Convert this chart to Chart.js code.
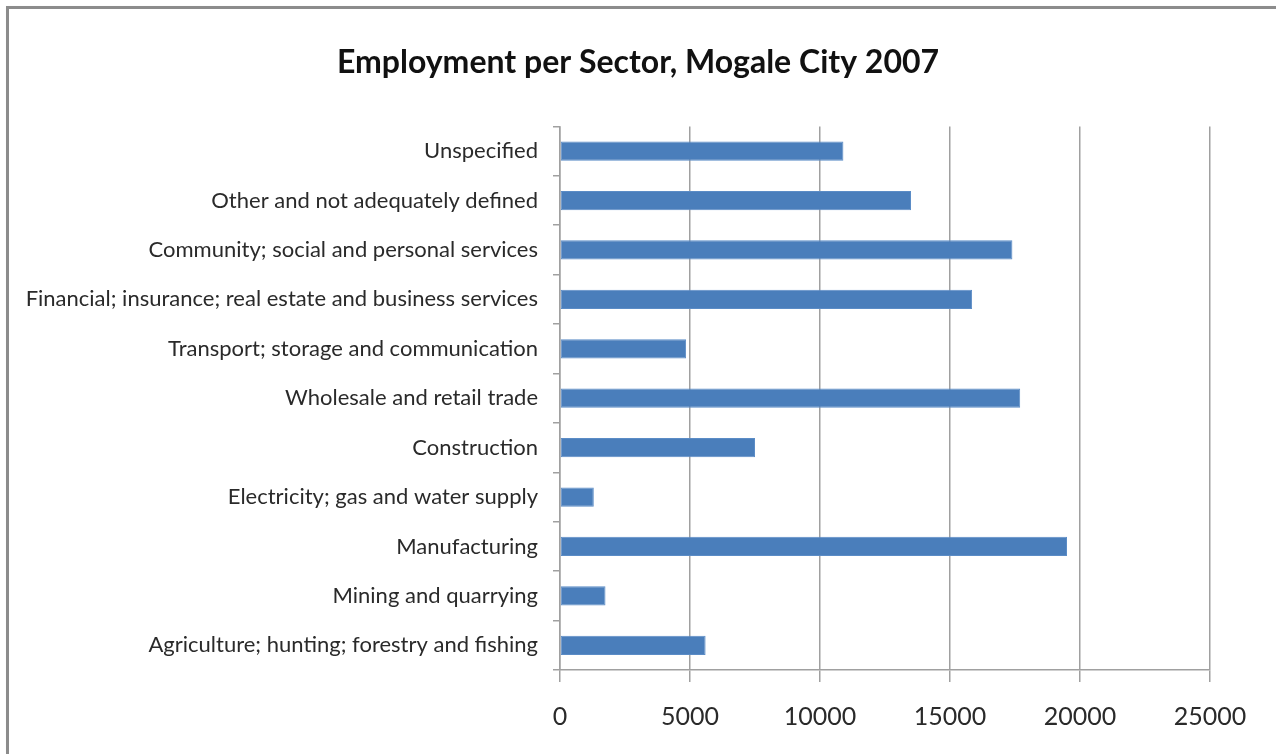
<!DOCTYPE html>
<html>
<head>
<meta charset="utf-8">
<title>Employment per Sector, Mogale City 2007</title>
<script src="https://cdn.jsdelivr.net/npm/chart.js@4/dist/chart.umd.min.js"></script>
<style>
    html, body { margin: 0; padding: 0; background: #fff; overflow: hidden; }
    #frame {
        position: absolute; left: 6px; top: 6px;
        width: 1400px; height: 900px;
        border-left: 3px solid #8c8c8c; border-top: 3px solid #8c8c8c;
        box-shadow: 1px 1px 2px rgba(0,0,0,0.15);
    }
    #wrap { position: absolute; left: 0; top: 0; width: 1276px; height: 754px; }
</style>
</head>
<body>
<div id="frame"></div>
<div id="wrap"><canvas id="sectorChart" width="1276" height="754"></canvas></div>
<script>
// Sectors, listed top to bottom as they appear on the axis
const sectors = [
    'Unspecified',
    'Other and not adequately defined',
    'Community; social and personal services',
    'Financial; insurance; real estate and business services',
    'Transport; storage and communication',
    'Wholesale and retail trade',
    'Construction',
    'Electricity; gas and water supply',
    'Manufacturing',
    'Mining and quarrying',
    'Agriculture; hunting; forestry and fishing'
];

// Number of people employed in each sector
const employed = [10900, 13500, 17400, 15850, 4850, 17700, 7500, 1300, 19500, 1750, 5600];

// Value axis range and step
const axisMin = 0;
const axisMax = 25000;
const axisStep = 5000;

const gridGrey = '#a0a0a0';
const barBlue = '#4a7ebb';
const labelFont = 'Lato, "Open Sans", sans-serif';

const ctx = document.getElementById('sectorChart').getContext('2d');
new Chart(ctx, {
    type: 'bar',
    data: {
        labels: sectors,
        datasets: [{
            label: 'Employment',
            data: employed,
            backgroundColor: barBlue,
            borderColor: '#5b8cc6',
            borderWidth: 1,
            borderSkipped: false,
            barPercentage: 0.39,
            categoryPercentage: 1
        }]
    },
    options: {
        indexAxis: 'y',
        responsive: false,
        animation: false,
        layout: { padding: 0 },
        plugins: {
            legend: { display: false },
            tooltip: { enabled: false },
            title: {
                display: true,
                text: 'Employment per Sector, Mogale City 2007',
                color: '#111',
                font: { family: labelFont, size: 32, weight: 'bold' },
                padding: { top: 43, bottom: 45 }
            }
        },
        scales: {
            x: {
                min: axisMin,
                max: axisMax,
                ticks: {
                    stepSize: axisStep,
                    color: '#2a2a2a',
                    font: { family: labelFont, size: 25 },
                    padding: 20,
                    callback: value => String(value)
                },
                grid: {
                    color: gridGrey,
                    lineWidth: 1.5,
                    drawTicks: true,
                    tickLength: 12
                },
                border: { color: gridGrey, width: 1.5 },
                afterFit(scale) { scale.height = 84; }
            },
            y: {
                ticks: {
                    color: '#2a2a2a',
                    font: { family: labelFont, size: 22 },
                    padding: 15
                },
                grid: {
                    offset: true,
                    drawOnChartArea: false,
                    color: gridGrey,
                    lineWidth: 1.5,
                    tickLength: 7
                },
                border: { color: gridGrey, width: 1.5 },
                afterFit(scale) { scale.width = 560; }
            },
            // empty strip on the right so the plot stops at 25000 while the title stays centred
            rightGap: {
                type: 'linear',
                position: 'right',
                display: true,
                grid: { display: false },
                ticks: { display: false },
                border: { display: false },
                afterFit(scale) { scale.width = 66; }
            }
        }
    }
});
</script>
</body>
</html>
